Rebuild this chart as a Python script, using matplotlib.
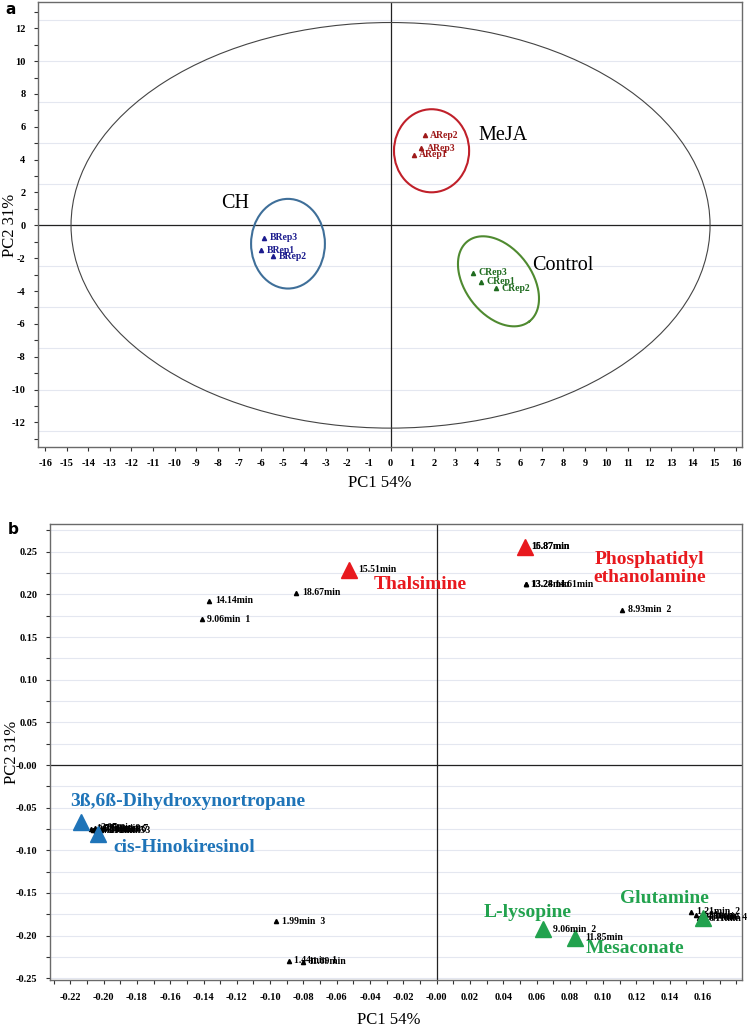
import numpy as np
import matplotlib
matplotlib.use("Agg")
import matplotlib.pyplot as plt
from matplotlib.patches import Ellipse
from matplotlib.ticker import MultipleLocator, FixedLocator, FuncFormatter

plt.rcParams['font.family'] = ['Liberation Serif', 'DejaVu Serif']

# === PANEL A: SCORES ===
a_labels = ["ARep1", "ARep2", "ARep3", "BRep1", "BRep2", "BRep3", "CRep1", "CRep2", "CRep3"]
a_x = [1.07, 1.58, 1.42, -6.01, -5.43, -5.86, 4.19, 4.88, 3.81]
a_y = [4.29, 5.49, 4.70, -1.52, -1.89, -0.77, -3.43, -3.82, -2.88]
a_group = ["A", "A", "A", "B", "B", "B", "C", "C", "C"]

# group ellipses: name, centre x, centre y
groups = ["MeJA", "CH", "Control"]
grp_cx = [1.90, -4.75, 5.00]
grp_cy = [4.54, -1.12, -3.41]
grp_name_x = [5.2, -7.2, 8.0]
grp_name_y = [5.5, 1.35, -2.45]

hotelling_rx = 14.8
hotelling_ry = 12.35

# === PANEL B: LOADINGS ===
small_x = [-0.1365, -0.1411, -0.0843, 0.0534, 0.0534, 0.1116, -0.0963, -0.0887, -0.0805,
           0.0532, 0.0532,
           -0.2075, -0.2065, -0.2050, -0.2045, -0.2035, -0.2025, -0.2015, -0.2005,
           0.1530, 0.1560, 0.1575, 0.1590, 0.1600]
small_y = [0.1923, 0.1707, 0.2020, 0.2117, 0.2117, 0.1817, -0.1829, -0.2294, -0.2305,
           0.2560, 0.2560,
           -0.0745, -0.0760, -0.0735, -0.0770, -0.0755, -0.0748, -0.0765, -0.0742,
           -0.1720, -0.1760, -0.1790, -0.1775, -0.1800]
small_lab = ["14.14min", "9.06min  1", "18.67min", "13.28min", "13.24 14.61min", "8.93min  2",
             "1.99min  3", "1.44min  1", "11.69min",
             "16.87min", "15.87min",
             "1.98min  9", "2.41min  8", "3.07min", "4.21min  5", "5.36min  6", "7.53min  7",
             "3.91min  3", "2.11min",
             "1.21min  2", "1.31min", "2.07min  4", "4.86min", "6.11min"]

key_names = ["Thalsimine", "Phosphatidyl\nethanolamine", "3ß,6ß-Dihydroxynortropane",
             "cis-Hinokiresinol", "L-lysopine", "Mesaconate", "Glutamine"]
key_x = [-0.0529, 0.0532, -0.2134, -0.2033, 0.0638, 0.0832, 0.1602]
key_y = [0.2286, 0.2560, -0.0673, -0.0814, -0.1927, -0.2025, -0.1790]
key_tag = ["15.51min", "", "", "", "9.06min  2", "11.85min", ""]
key_color = ["red", "red", "blue", "blue", "green", "green", "green"]
key_name_x = [-0.0098, 0.128, -0.1494, -0.1515, 0.0546, 0.1192, 0.1366]
key_name_y = [0.2110, 0.2300, -0.0430, -0.0966, -0.1728, -0.2150, -0.1564]

colors = {"A": "#9E1A1A", "B": "#1C1C8E", "C": "#1F6B1F"}
ell_colors = {"MeJA": "#C0202A", "CH": "#3F6F99", "Control": "#4F8A30"}
key_colors = {"red": "#E8191E", "blue": "#1F74B8", "green": "#22A24E"}

W, H = 751, 1027
fig = plt.figure(figsize=(W / 100, H / 100), dpi=100)

grid_col = "#E4E7F0"
spine_col = "#6A6A6A"


def style_axes(ax):
    for s in ax.spines.values():
        s.set_color(spine_col)
        s.set_linewidth(1.0)
    ax.tick_params(which='both', direction='out', length=3, width=0.8, color='#333333',
                   labelsize=7.5, pad=6)
    for lab in ax.get_xticklabels() + ax.get_yticklabels():
        lab.set_fontweight('bold')


# ---------------- panel a ----------------
ax1 = fig.add_axes([38 / W, 1 - 447 / H, 704 / W, 445 / H])
ax1.set_xlim(-16.33, 16.28)
ax1.set_ylim(-13.5, 13.6)
for g in np.arange(-12.5, 13, 2.5):
    ax1.axhline(g, color=grid_col, lw=0.8, zorder=0)
ax1.axhline(0, color='#222222', lw=0.9, zorder=1)
ax1.axvline(0, color='#222222', lw=0.9, zorder=1)

ax1.add_patch(Ellipse((0, 0), 2 * hotelling_rx, 2 * hotelling_ry, fill=False,
                      edgecolor='#444444', lw=0.8, zorder=2))

# MeJA and CH: axis-aligned, Control: tilted (built in pixel space, px per unit)
sx, sy = 704 / (16.28 + 16.33), 445 / (13.6 + 13.5)
ax1.add_patch(Ellipse((grp_cx[0], grp_cy[0]), 3.48, 5.06, fill=False,
                      edgecolor=ell_colors["MeJA"], lw=1.5, zorder=3))
ax1.add_patch(Ellipse((grp_cx[1], grp_cy[1]), 3.42, 5.46, fill=False,
                      edgecolor=ell_colors["CH"], lw=1.5, zorder=3))
t = np.linspace(0, 2 * np.pi, 200)
phi = np.deg2rad(-52.7)
ea, eb = 50.6, 33.3
dxp = ea * np.cos(t) * np.cos(phi) - eb * np.sin(t) * np.sin(phi)
dyp = ea * np.cos(t) * np.sin(phi) + eb * np.sin(t) * np.cos(phi)
ax1.plot(grp_cx[2] + dxp / sx, grp_cy[2] + dyp / sy, color=ell_colors["Control"], lw=1.5, zorder=3)

for x, y, lab, g in zip(a_x, a_y, a_labels, a_group):
    ax1.plot(x, y, '^', color=colors[g], ms=3, zorder=4)
    ax1.annotate(lab, (x, y), xytext=(4, 0), textcoords='offset points', va='center',
                 ha='left', fontsize=7, fontweight='bold', color=colors[g], zorder=5)

for name, x, y in zip(groups, grp_name_x, grp_name_y):
    ax1.text(x, y, name, fontsize=14.5, ha='center', va='center', color='black')

ax1.xaxis.set_major_locator(MultipleLocator(1))
ax1.yaxis.set_major_locator(MultipleLocator(2))
ax1.yaxis.set_minor_locator(MultipleLocator(1))
ax1.xaxis.set_major_formatter(FuncFormatter(lambda v, p: f"{v:.0f}"))
ax1.yaxis.set_major_formatter(FuncFormatter(lambda v, p: f"{v:.0f}"))
style_axes(ax1)

fig.text(380 / W, 1 - 483 / H, "PC1 54%", ha='center', va='center', fontsize=12)
fig.text(10 / W, 1 - 225 / H, "PC2 31%", ha='center', va='center', fontsize=12, rotation=90)
fig.text(5 / W, 1 - 9 / H, "a", ha='left', va='center', fontsize=11, fontweight='bold',
         family='DejaVu Sans')

# ---------------- panel b ----------------
ax2 = fig.add_axes([50 / W, 1 - 980 / H, 692 / W, 456 / H])
ax2.set_xlim(-0.2322, 0.1834)
ax2.set_ylim(-0.252, 0.2825)
for g in np.arange(-0.25, 0.28, 0.025):
    ax2.axhline(g, color=grid_col, lw=0.8, zorder=0)
ax2.axhline(0, color='#222222', lw=0.9, zorder=1)
ax2.axvline(0, color='#222222', lw=0.9, zorder=1)

for x, y, lab in zip(small_x, small_y, small_lab):
    ax2.plot(x, y, '^', color='black', ms=3, zorder=4)
    ax2.annotate(lab, (x, y), xytext=(4, 0), textcoords='offset points', va='center',
                 ha='left', fontsize=7, fontweight='bold', color='black', zorder=5,
                 annotation_clip=False)

for x, y, tag, c in zip(key_x, key_y, key_tag, key_color):
    ax2.plot(x, y, '^', color=key_colors[c], ms=12, zorder=6)
    if tag:
        ax2.annotate(tag, (x, y), xytext=(7, 0), textcoords='offset points', va='center',
                     ha='left', fontsize=7, fontweight='bold', color='black', zorder=7)

for name, x, y, c in zip(key_names, key_name_x, key_name_y, key_color):
    ax2.text(x, y, name, fontsize=14, fontweight='bold', ha='center', va='center',
             color=key_colors[c], zorder=8, linespacing=1.1)

ax2.xaxis.set_major_locator(FixedLocator(np.round(np.arange(-0.22, 0.165, 0.02), 2)))
ax2.xaxis.set_minor_locator(MultipleLocator(0.01))
ax2.yaxis.set_major_locator(MultipleLocator(0.05))
ax2.yaxis.set_minor_locator(MultipleLocator(0.025))
fmt = FuncFormatter(lambda v, p: "-0.00" if abs(v) < 1e-9 else f"{v:.2f}")
ax2.xaxis.set_major_formatter(fmt)
ax2.yaxis.set_major_formatter(fmt)
style_axes(ax2)

fig.text(389 / W, 1 - 1020 / H, "PC1 54%", ha='center', va='center', fontsize=12)
fig.text(12 / W, 1 - 752 / H, "PC2 31%", ha='center', va='center', fontsize=12, rotation=90)
fig.text(8 / W, 1 - 530 / H, "b", ha='left', va='center', fontsize=11, fontweight='bold',
         family='DejaVu Sans')

fig.savefig("out.png", dpi=100)
